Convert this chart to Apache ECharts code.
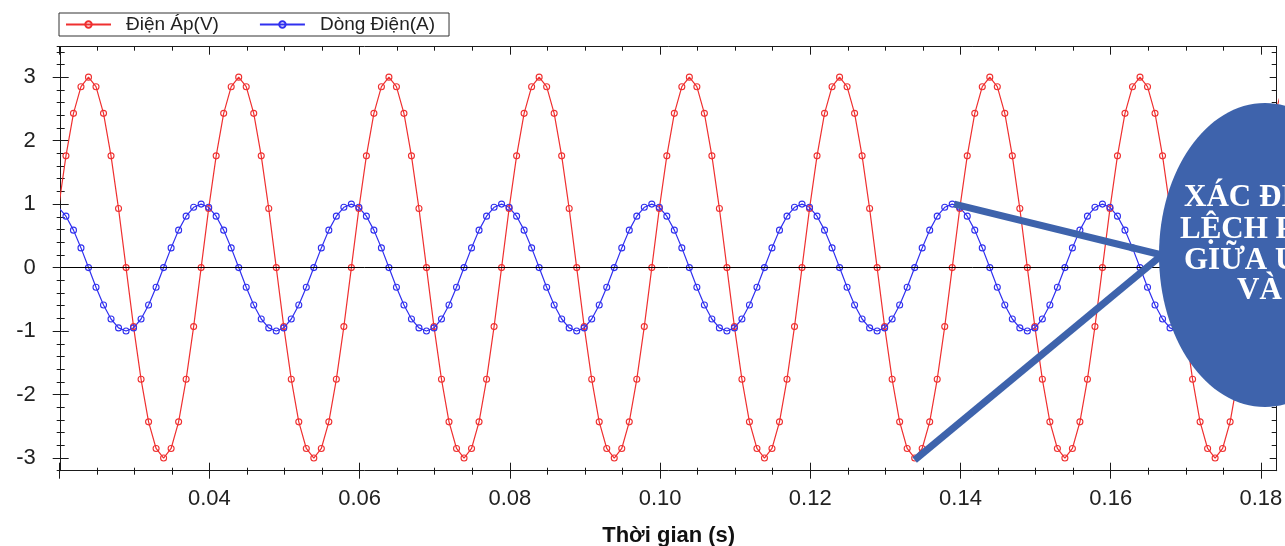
<!DOCTYPE html>
<html>
<head>
<meta charset="utf-8">
<title>Điện áp và dòng điện</title>
<script src="https://cdn.jsdelivr.net/npm/echarts@6/dist/echarts.min.js"></script>
<style>
  html, body { margin: 0; padding: 0; background: #fff; }
  #chart { width: 1285px; height: 546px; }
</style>
</head>
<body>
<div id="chart"></div>
<script>
// mẫu lấy mỗi 1 ms, mẫu đầu tiên tại t0
const t0 = 0.0199
const dt = 0.001

// Điện Áp(V), mỗi dòng là một chu kỳ (20 mẫu)
const voltage = [
  0.93, 1.76, 2.43, 2.85, 3.00, 2.85, 2.43, 1.76, 0.93, 0.00, -0.93, -1.76, -2.43, -2.85, -3.00, -2.85, -2.43, -1.76, -0.93, 0.00,
  0.93, 1.76, 2.43, 2.85, 3.00, 2.85, 2.43, 1.76, 0.93, 0.00, -0.93, -1.76, -2.43, -2.85, -3.00, -2.85, -2.43, -1.76, -0.93, 0.00,
  0.93, 1.76, 2.43, 2.85, 3.00, 2.85, 2.43, 1.76, 0.93, 0.00, -0.93, -1.76, -2.43, -2.85, -3.00, -2.85, -2.43, -1.76, -0.93, 0.00,
  0.93, 1.76, 2.43, 2.85, 3.00, 2.85, 2.43, 1.76, 0.93, 0.00, -0.93, -1.76, -2.43, -2.85, -3.00, -2.85, -2.43, -1.76, -0.93, 0.00,
  0.93, 1.76, 2.43, 2.85, 3.00, 2.85, 2.43, 1.76, 0.93, 0.00, -0.93, -1.76, -2.43, -2.85, -3.00, -2.85, -2.43, -1.76, -0.93, 0.00,
  0.93, 1.76, 2.43, 2.85, 3.00, 2.85, 2.43, 1.76, 0.93, 0.00, -0.93, -1.76, -2.43, -2.85, -3.00, -2.85, -2.43, -1.76, -0.93, 0.00,
  0.93, 1.76, 2.43, 2.85, 3.00, 2.85, 2.43, 1.76, 0.93, 0.00, -0.93, -1.76, -2.43, -2.85, -3.00, -2.85, -2.43, -1.76, -0.93, 0.00,
  0.93, 1.76, 2.43, 2.85, 3.00, 2.85, 2.43, 1.76, 0.93, 0.00, -0.93, -1.76, -2.43, -2.85, -3.00, -2.85, -2.43, -1.76, -0.93, 0.00,
  0.93, 1.76, 2.43, 2.85
]

// Dòng Điện(A)
const current = [
  0.95, 0.81, 0.59, 0.31, 0.00, -0.31, -0.59, -0.81, -0.95, -1.00, -0.95, -0.81, -0.59, -0.31, 0.00, 0.31, 0.59, 0.81, 0.95, 1.00,
  0.95, 0.81, 0.59, 0.31, 0.00, -0.31, -0.59, -0.81, -0.95, -1.00, -0.95, -0.81, -0.59, -0.31, 0.00, 0.31, 0.59, 0.81, 0.95, 1.00,
  0.95, 0.81, 0.59, 0.31, 0.00, -0.31, -0.59, -0.81, -0.95, -1.00, -0.95, -0.81, -0.59, -0.31, 0.00, 0.31, 0.59, 0.81, 0.95, 1.00,
  0.95, 0.81, 0.59, 0.31, 0.00, -0.31, -0.59, -0.81, -0.95, -1.00, -0.95, -0.81, -0.59, -0.31, 0.00, 0.31, 0.59, 0.81, 0.95, 1.00,
  0.95, 0.81, 0.59, 0.31, 0.00, -0.31, -0.59, -0.81, -0.95, -1.00, -0.95, -0.81, -0.59, -0.31, 0.00, 0.31, 0.59, 0.81, 0.95, 1.00,
  0.95, 0.81, 0.59, 0.31, 0.00, -0.31, -0.59, -0.81, -0.95, -1.00, -0.95, -0.81, -0.59, -0.31, 0.00, 0.31, 0.59, 0.81, 0.95, 1.00,
  0.95, 0.81, 0.59, 0.31, 0.00, -0.31, -0.59, -0.81, -0.95, -1.00, -0.95, -0.81, -0.59, -0.31, 0.00, 0.31, 0.59, 0.81, 0.95, 1.00,
  0.95, 0.81, 0.59, 0.31, 0.00, -0.31, -0.59, -0.81, -0.95, -1.00, -0.95, -0.81, -0.59, -0.31, 0.00, 0.31, 0.59, 0.81, 0.95, 1.00,
  0.95, 0.81, 0.59, 0.31
]

const seriesNames = ['Điện Áp(V)', 'Dòng Điện(A)']
const axisTitle = 'Thời gian (s)'
const ovalText = ['XÁC ĐỊNH ĐỘ', 'LỆCH PHA', 'GIỮA U', 'VÀ I']

// điểm được nối với hình oval (chỉ số mẫu)
const blueMarkIdx = 119
const redMarkIdx = 114

const times = voltage.map((v, i) => +(t0 + i * dt).toFixed(4))

const red = '#ef3030'
const blue = '#3030ef'
const ink = '#1a1a1a'
const ovalColor = '#3e63ac'
const font = '"Liberation Sans", Arial, sans-serif'

// khung vẽ
const box = { left: 60.7, top: 46.7, width: 1216, height: 424 }
const xRange = [0.0202, 0.1821]
const yRange = [-3.2, 3.48]
const sx = box.width / (xRange[1] - xRange[0])
const sy = box.height / (yRange[1] - yRange[0])

function frameAxis(gridIndex, position, range, extra) {
	return Object.assign({
		type: 'value', gridIndex, position, min: range[0], max: range[1],
		axisLine: { show: true, onZero: false, lineStyle: { color: ink, width: 1 } },
		axisTick: { show: false },
		axisLabel: { show: false },
		splitLine: { show: false }
	}, extra || {})
}

function tickAxis(gridIndex, position, range, interval, inside, len, minorLen, label) {
	return {
		type: 'value', gridIndex, position, min: range[0], max: range[1], interval,
		axisLine: { show: false, onZero: false },
		axisTick: { show: true, inside, length: len, lineStyle: { color: ink, width: 1 } },
		minorTick: minorLen
			? { show: true, splitNumber: 4, length: minorLen, lineStyle: { color: ink, width: 1 } }
			: { show: false },
		axisLabel: label || { show: false },
		splitLine: { show: false }
	}
}

function hiddenAxis(gridIndex) {
	return { type: 'value', gridIndex, show: false, min: 0, max: 1, splitLine: { show: false } }
}

const xTickRange = [0.02, 0.18]
const yTickRange = [-3, 3]

const chart = echarts.init(document.getElementById('chart'))

const gridBase = { containLabel: false, outerBoundsMode: 'none' }

const option = {
	animation: false,
	backgroundColor: '#fff',
	legend: {
		left: 59,
		top: 13,
		padding: [2, 14, 2, 6],
		borderColor: '#333',
		borderWidth: 1,
		itemWidth: 45,
		itemHeight: 8,
		itemGap: 40,
		textStyle: { fontFamily: font, fontSize: 19, color: '#222', padding: [0, 0, 0, 10] },
		data: seriesNames
	},
	grid: [
		Object.assign({ left: box.left, top: box.top, width: box.width, height: box.height }, gridBase),
		Object.assign({
			left: box.left + (xTickRange[0] - xRange[0]) * sx, top: box.top,
			width: (xTickRange[1] - xTickRange[0]) * sx, height: box.height
		}, gridBase),
		Object.assign({
			left: box.left, top: box.top + (yRange[1] - yTickRange[1]) * sy,
			width: box.width, height: (yTickRange[1] - yTickRange[0]) * sy
		}, gridBase)
	],
	xAxis: [
		frameAxis(0, 'bottom', xRange),
		frameAxis(0, 'top', xRange),
		tickAxis(1, 'bottom', xTickRange, 0.02, false, 8, 4, {
			show: true,
			margin: 17,
			showMinLabel: false,
			fontFamily: font,
			fontSize: 22,
			color: '#222',
			formatter: v => v.toFixed(2)
		}),
		tickAxis(1, 'bottom', xTickRange, 0.02, true, 8, 3),
		tickAxis(1, 'top', xTickRange, 0.02, true, 8, 4),
		hiddenAxis(2)
	],
	yAxis: [
		frameAxis(0, 'left', yRange, { interval: 0.2, axisTick: { show: true, length: 4, lineStyle: { color: ink } } }),
		tickAxis(0, 'left', yRange, 0.2, true, 4),
		frameAxis(0, 'right', yRange, { interval: 0.2, axisTick: { show: true, inside: true, length: 5, lineStyle: { color: ink } } }),
		hiddenAxis(1),
		tickAxis(2, 'left', yTickRange, 1, false, 8, 0, {
			show: true,
			margin: 25,
			fontFamily: font,
			fontSize: 22,
			color: '#222'
		}),
		tickAxis(2, 'left', yTickRange, 1, true, 8),
		tickAxis(2, 'right', yTickRange, 1, true, 7)
	],
	series: [
		{
			name: seriesNames[0],
			type: 'line',
			xAxisIndex: 0,
			yAxisIndex: 0,
			data: times.map((t, i) => [t, voltage[i]]),
			symbol: 'circle',
			symbolSize: 6,
			showAllSymbol: true,
			lineStyle: { color: red, width: 1.2 },
			itemStyle: { color: 'rgba(255,255,255,0)', borderColor: red, borderWidth: 1.1 },
			emphasis: { disabled: true },
			markLine: {
				silent: true,
				symbol: ['none', 'none'],
				label: { show: false },
				lineStyle: { color: '#000', width: 1, type: 'solid' },
				data: [{ yAxis: 0 }]
			}
		},
		{
			name: seriesNames[1],
			type: 'line',
			xAxisIndex: 0,
			yAxisIndex: 0,
			data: times.map((t, i) => [t, current[i]]),
			symbol: 'circle',
			symbolSize: 6,
			showAllSymbol: true,
			lineStyle: { color: blue, width: 1.2 },
			itemStyle: { color: 'rgba(255,255,255,0)', borderColor: blue, borderWidth: 1.1 },
			emphasis: { disabled: true }
		}
	]
}

chart.setOption(option)

// tên trục hoành, đặt giữa khung vẽ
// hình oval chú thích và hai đường nối
const oval = { cx: 1265, cy: 255, rx: 106, ry: 152 }
const pBlue = chart.convertToPixel({ seriesIndex: 1 }, [times[blueMarkIdx], current[blueMarkIdx]])
const pRed = chart.convertToPixel({ seriesIndex: 0 }, [times[redMarkIdx], voltage[redMarkIdx]])
const textLeft = [1184, 1180, 1184, 1237]
const textMid = [198, 230, 261, 291]

chart.setOption({
	graphic: [
		{
			type: 'text', z: 50,
			x: box.left + box.width / 2,
			y: 536,
			style: {
				text: axisTitle,
				fill: '#111',
				font: 'bold 22px ' + font,
				align: 'center',
				verticalAlign: 'middle'
			}
		},
		{
			type: 'line', z: 100,
			shape: { x1: pBlue[0] + 2, y1: pBlue[1], x2: oval.cx - oval.rx + 3, y2: oval.cy },
			style: { stroke: ovalColor, lineWidth: 7 }
		},
		{
			type: 'line', z: 100,
			shape: { x1: pRed[0], y1: pRed[1] + 2, x2: oval.cx - oval.rx + 3, y2: oval.cy },
			style: { stroke: ovalColor, lineWidth: 7 }
		},
		{
			type: 'ellipse', z: 101,
			shape: { cx: oval.cx, cy: oval.cy, rx: oval.rx, ry: oval.ry },
			style: { fill: ovalColor }
		}
	].concat(ovalText.map((s, i) => ({
		type: 'text', z: 102,
		x: textLeft[i],
		y: textMid[i],
		style: {
			text: s,
			fill: '#fff',
			font: 'bold 31px "Liberation Serif", "Times New Roman", serif',
			align: 'left',
			verticalAlign: 'middle'
		}
	})))
})
</script>
</body>
</html>
